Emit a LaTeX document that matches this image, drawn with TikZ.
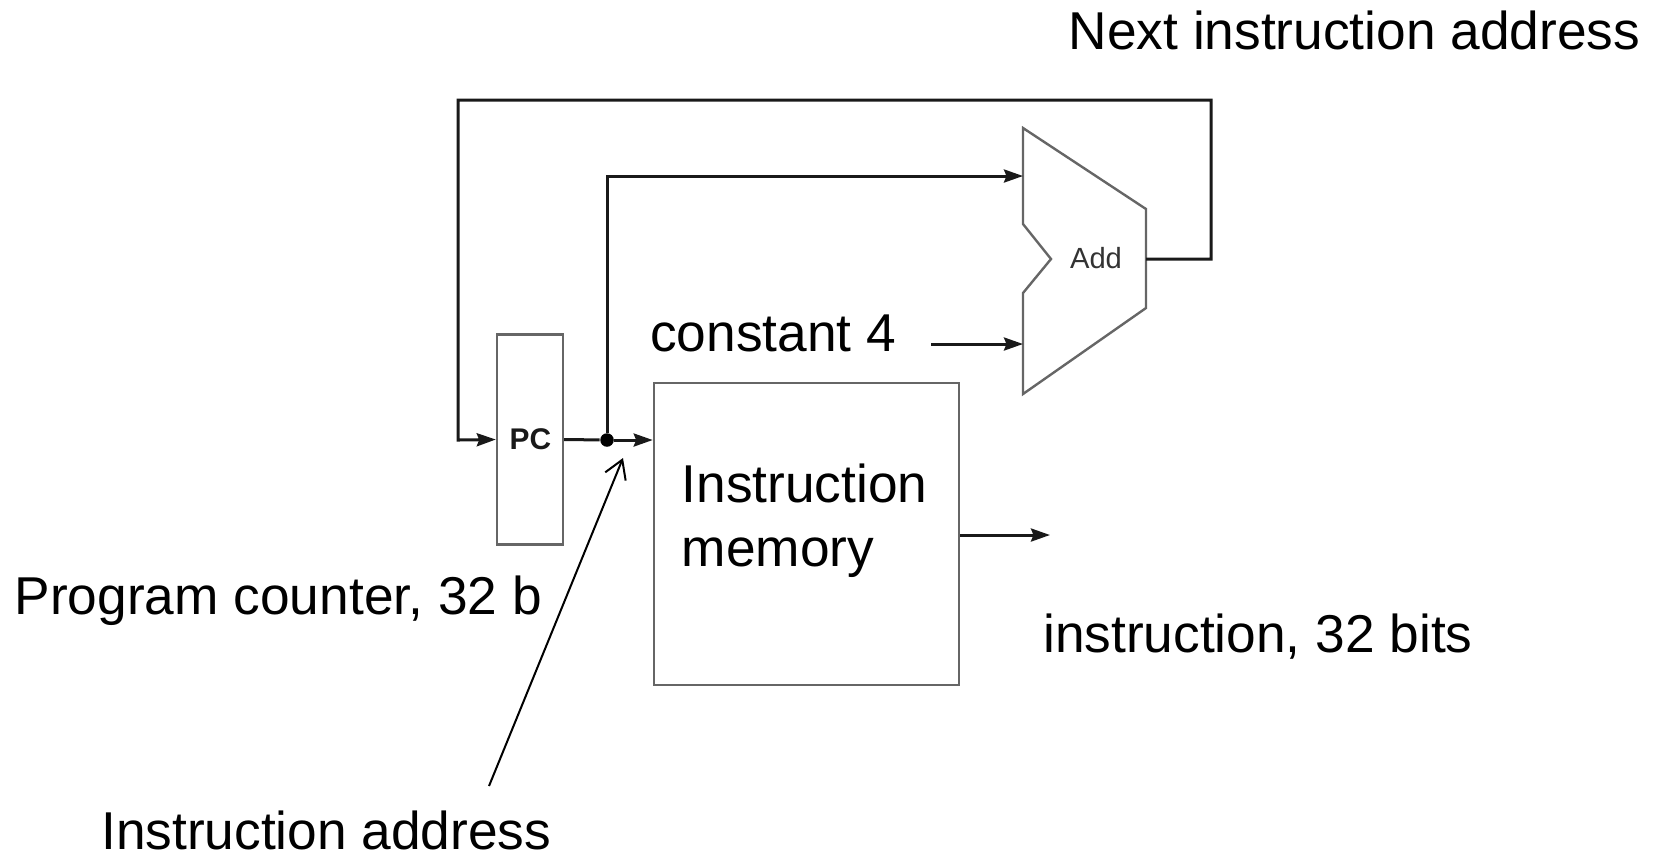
\documentclass[tikz,border=0pt]{standalone}
\usepackage{fontspec}
\setmainfont{Liberation Sans}
\usetikzlibrary{arrows.meta}
\tikzset{>={Stealth[length=1.9mm,width=1.3mm,inset=.25mm]}}
\tikzset{
  box/.style={draw=black!60, line width=.24mm, inner sep=0pt},
  wire/.style={draw=black!90, line width=.3mm},
  label/.style={anchor=base west, inner sep=0pt, font=\fontsize{15.15}{18}\selectfont},
  small/.style={inner sep=0pt, text=black!80, font=\fontsize{8.3}{10}\selectfont},
}

\begin{document}
\begin{tikzpicture}[x=.01cm, y=-.01cm]
      \useasboundingbox (0, 0) rectangle (1657, 853);
      % blocks
      \node[box, minimum width=.66cm, minimum height=2.1cm] (pc) at (530, 439.5) {};
      \node[small, text=black!90, font=\fontsize{8.5}{10}\selectfont\bfseries] (pclabel) at (530.5, 439.5) {PC};
      \node[box, minimum width=3.05cm, minimum height=3.02cm] (imem) at (806.5, 534) {};
      % adder
      \draw[box] (1023, 128) coordinate (addtop) -- (1146, 209) -- (1146, 308)
        -- (1023, 394) coordinate (addbot) -- (1023, 293) -- (1051, 259) -- (1023, 224) -- cycle;
      \node[small] (addlabel) at (1096, 258.5) {Add};
      \coordinate (addinA) at (1023, 176);
      \coordinate (addinB) at (1023, 344);
      \coordinate (addout) at (1146, 259);
      % dot
      \node[circle, fill=black, inner sep=0pt, minimum size=1.35mm] (split) at (607, 440) {};
      % lines
      \coordinate (loopR) at (1211, 259);
      \coordinate (loopT) at (1211, 100);
      \coordinate (loopL) at (458, 100);
      \coordinate (loopB) at (458, 440);
      \draw[wire, ->] (addout) -- (loopR) -- (loopT) -- (loopL) -- (loopB) -- (pc.west);
      \draw[wire] (pc.east) -- (split);
      \draw[wire, ->] (split) -- (imem.west |- split);
      \draw[wire, ->] (split) |- (addinA);
      \coordinate (fourstart) at (931, 344);
      \draw[wire, ->] (fourstart) -- (addinB);
      \coordinate (outend) at (1050, 535);
      \draw[wire, ->] (imem.east |- outend) -- (outend);
      % pointer
      \coordinate (ptrtail) at (489, 786);
      \coordinate (ptrtip) at (623, 458);
      \draw[line width=.2mm, black, -{Straight Barb[length=1.8mm,width=2.2mm]}] (ptrtail) -- (ptrtip);
      % labels
      \node[label] (nextaddr) at (1068, 49) {Next instruction address};
      \node[label] (const) at (649.5, 351.5) {constant 4};
      \node[label] (instr) at (681, 502) {Instruction};
      \node[label] (mem) at (681, 566) {memory};
      \node[label] (pccount) at (14, 614) {Program counter, 32 b};
      \node[label] (instrbits) at (1042.5, 652) {instruction, 32 bits};
      \node[label] (instraddr) at (100.5, 849) {Instruction address};
    \end{tikzpicture}
\end{document}
